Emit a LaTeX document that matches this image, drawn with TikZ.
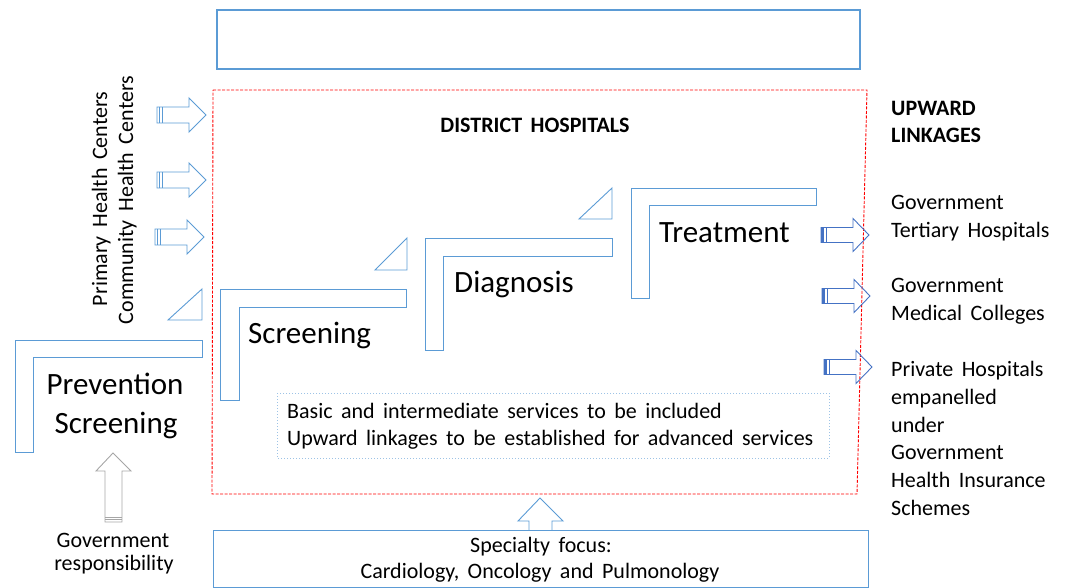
\documentclass[tikz,border=0pt]{standalone}
\usepackage{fontspec}
\setmainfont{Carlito}[WordSpace=1.7]
\definecolor{lblue}{HTML}{5B9BD5}
\definecolor{dblue}{HTML}{4472C4}
\definecolor{dotblue}{HTML}{9DC3E6}
\definecolor{rred}{HTML}{FF0000}
\definecolor{agray}{HTML}{A6A6A6}
\tikzset{
  shp/.style={draw=lblue, line width=0.9pt, line join=miter},
  txt/.style={inner sep=0pt, font=\fontsize{22}{26}\selectfont},
  hd/.style={inner sep=0pt, font=\fontsize{22}{26}\selectfont\bfseries},
  big/.style={inner sep=0pt, font=\fontsize{31}{36}\selectfont},
  larrow/.pic={
    \draw[shp] (0,-8) -- (32,-8) -- (32,-17) -- (49,0) -- (32,17) -- (32,8) -- (0,8) -- cycle;
    \draw[lblue, line width=0.8pt] (2.5,-8) -- (2.5,8) (5,-8) -- (5,8);
  },
  rarrow/.pic={
    \draw[draw=dblue, line width=0.9pt, line join=miter] (0,-7.5) -- (32,-7.5) -- (32,-16.5) -- (48,0) -- (32,16.5) -- (32,7.5) -- (0,7.5) -- cycle;
    \fill[dblue] (0,-7.5) rectangle (3,7.5);
    \draw[dblue, line width=0.8pt] (5,-7.5) -- (5,7.5);
  }
}
\begin{document}
\begin{tikzpicture}[x=1pt,y=-1pt]
\useasboundingbox (0,0) rectangle (1065,588);

% top empty box
\draw[lblue, line width=1.3pt] (217,10) rectangle (860,69);

% red dashed district box
\draw[rred, line width=0.9pt, dash pattern=on 3pt off 1.5pt] (213,90) -- (867,90) -- (857,494) -- (212,494) -- cycle;

% bottom box
\draw[lblue, line width=0.9pt] (213,530) rectangle (868,587);

% dotted text box
\draw[dotblue, line width=1pt, dotted] (277,393) rectangle (829,458);

% L shapes
\draw[shp] (15,340) -- (202,340) -- (202,357) -- (33,357) -- (33,452) -- (15,452) -- cycle;
\draw[shp] (220,289) -- (406,289) -- (406,307) -- (239,307) -- (239,400) -- (220,400) -- cycle;
\draw[shp] (425,238) -- (612,238) -- (612,256) -- (443,256) -- (443,350) -- (425,350) -- cycle;
\draw[shp] (631,188) -- (816,188) -- (816,205) -- (649,205) -- (649,298) -- (631,298) -- cycle;

% triangles
\draw[shp] (168,320) -- (202,320) -- (202,289) -- cycle;
\draw[shp] (375,270) -- (407,270) -- (407,238) -- cycle;
\draw[shp] (579,219) -- (612,219) -- (612,188) -- cycle;

% left block arrows
\pic at (157,115) {larrow};
\pic at (157,180) {larrow};
\pic at (155,237) {larrow};

% right block arrows
\pic at (821,235) {rarrow};
\pic at (822,296) {rarrow};
\pic at (824,367) {rarrow};

% gray up arrow
\draw[agray, line width=0.9pt, line join=miter] (105,522) -- (105,471) -- (96,471) -- (113,453) -- (131,471) -- (122,471) -- (122,522) -- cycle;
\draw[agray, line width=0.8pt] (105,517) -- (122,517) (105,519.5) -- (122,519.5);

% bottom up arrow
\draw[shp] (529,530) -- (529,521) -- (518,521) -- (540,498) -- (563,521) -- (552,521) -- (552,530);

% texts
\node[hd, anchor=base] (dh) at (535,133) {DISTRICT HOSPITALS};
\node[hd, anchor=base west] (up1) at (891,116) {UPWARD};
\node[hd, anchor=base west] (up2) at (891,143) {LINKAGES};

\node[txt, anchor=base west] (r1) at (891,209) {Government};
\node[txt, anchor=base west] (r2) at (891,237) {Tertiary Hospitals};
\node[txt, anchor=base west] (r3) at (891,292) {Government};
\node[txt, anchor=base west] (r4) at (891,320) {Medical Colleges};
\node[txt, anchor=base west] (r5) at (891,376) {Private Hospitals};
\node[txt, anchor=base west] (r6) at (891,404) {empanelled};
\node[txt, anchor=base west] (r7) at (891,432) {under};
\node[txt, anchor=base west] (r8) at (891,459) {Government};
\node[txt, anchor=base west] (r9) at (891,487) {Health Insurance};
\node[txt, anchor=base west] (r10) at (891,515) {Schemes};

\node[txt, rotate=90, anchor=base] (phc) at (107,199) {Primary Health Centers};
\node[txt, rotate=90, anchor=base] (chc) at (133,200) {Community Health Centers};

\node[big, anchor=base] (prev) at (115,394) {Prevention};
\node[big, anchor=base] (scr1) at (116,433) {Screening};
\node[big, anchor=base west] (scr2) at (248,343) {Screening};
\node[big, anchor=base west] (diag) at (454,292) {Diagnosis};
\node[big, anchor=base west] (treat) at (659,242) {Treatment};

\node[txt, anchor=base] (gr1) at (113,547) {Government};
\node[txt, anchor=base] (gr2) at (114,570) {responsibility};

\node[txt, anchor=base west] (b1) at (287,418) {Basic and intermediate services to be included};
\node[txt, anchor=base west] (b2) at (287,445) {Upward linkages to be established for advanced services};

\node[txt, anchor=base] (s1) at (541,552) {Specialty focus:};
\node[txt, anchor=base] (s2) at (540,578) {Cardiology, Oncology and Pulmonology};
\end{tikzpicture}
\end{document}
